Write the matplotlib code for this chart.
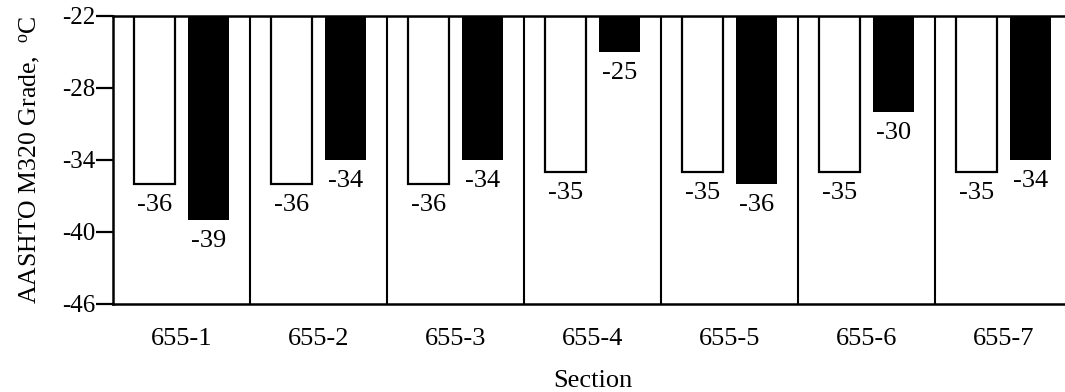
import matplotlib
matplotlib.use("Agg")
import matplotlib.pyplot as plt
import numpy as np

# Low-temperature PG grade per section: two grades per section
sections = ["655-1", "655-2", "655-3", "655-4", "655-5", "655-6", "655-7"]
grade_open = [-36, -36, -36, -35, -35, -35, -35]
grade_solid = [-39, -34, -34, -25, -36, -30, -34]
y_ticks = [-22, -28, -34, -40, -46]

plt.rcParams["font.family"] = ["Liberation Serif", "DejaVu Serif"]
plt.rcParams["mathtext.fontset"] = "custom"
plt.rcParams["mathtext.rm"] = "Liberation Serif"
plt.rcParams["mathtext.it"] = "Liberation Serif:italic"

fig = plt.figure(figsize=(10.65, 3.92), dpi=100)
ax = fig.add_axes([113 / 1065, 1 - 304 / 392, 959 / 1065, 288 / 392])

x = np.arange(len(sections))
top = y_ticks[0]
width = 0.30
offset = 0.20

open_bars = ax.bar(x - offset, np.array(grade_open) - top, width, bottom=top,
                   color="white", edgecolor="black", linewidth=1.6, zorder=2)
solid_bars = ax.bar(x + offset, np.array(grade_solid) - top, width, bottom=top,
                    color="black", edgecolor="black", linewidth=0, zorder=2)

for bars, vals in ((open_bars, grade_open), (solid_bars, grade_solid)):
    for b, v in zip(bars, vals):
        ax.annotate(f"{v}", xy=(b.get_x() + b.get_width() / 2, v),
                    xytext=(0, -21), textcoords="offset pixels",
                    ha="center", va="center", fontsize=19)

# Section dividers
for xs in np.arange(0.5, len(sections), 1.0):
    ax.axvline(xs, color="black", linewidth=1.5, zorder=1)

ax.set_xlim(-0.5, len(sections) - 0.5)
ax.set_ylim(y_ticks[-1], y_ticks[0])
ax.set_yticks(y_ticks)
ax.set_yticklabels([str(t) for t in y_ticks], fontsize=18)
ax.set_xticks(x)
ax.set_xticklabels(sections, fontsize=19)

ax.tick_params(axis="y", direction="out", length=12, width=1.6, pad=1)
ax.tick_params(axis="x", length=0, pad=17)

for side in ("left", "top", "bottom"):
    ax.spines[side].set_linewidth(1.8)
ax.spines["right"].set_visible(False)

ax.set_xlabel("Section", fontsize=19, labelpad=15)
ax.set_ylabel(r"AASHTO M320 Grade,  $^{\mathrm{o}}$C", fontsize=18.5)
ax.yaxis.set_label_coords(-0.074, 0.5)

fig.savefig("out.png", dpi=100)
